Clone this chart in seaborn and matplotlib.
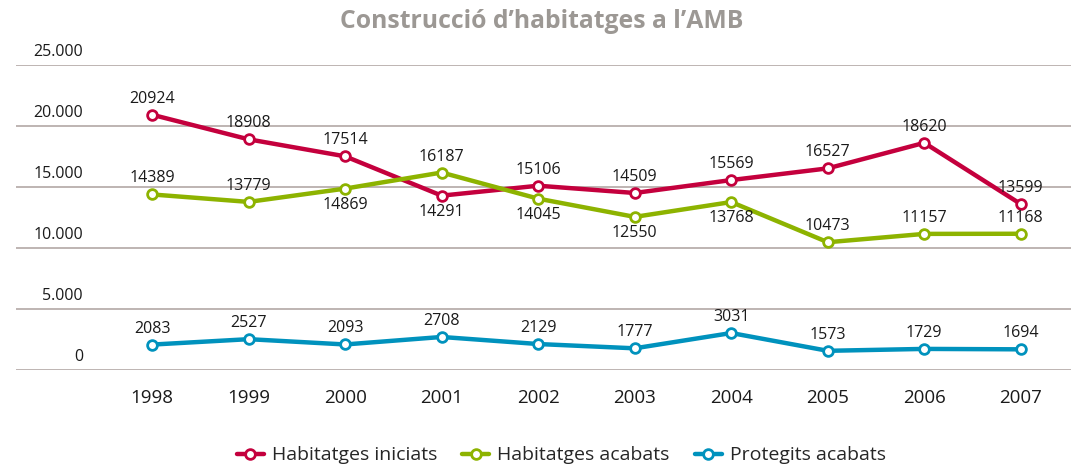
import matplotlib
matplotlib.use("Agg")
import matplotlib.pyplot as plt
import seaborn as sns
import pandas as pd
from matplotlib.lines import Line2D

years = [1998, 1999, 2000, 2001, 2002, 2003, 2004, 2005, 2006, 2007]
iniciats = [20924, 18908, 17514, 14291, 15106, 14509, 15569, 16527, 18620, 13599]
acabats = [14389, 13779, 14869, 16187, 14045, 12550, 13768, 10473, 11157, 11168]
protegits = [2083, 2527, 2093, 2708, 2129, 1777, 3031, 1573, 1729, 1694]
series_names = ["Habitatges iniciats", "Habitatges acabats", "Protegits acabats"]
# label position: 1 above, -1 below
pos_iniciats = [1, 1, 1, -1, 1, 1, 1, 1, 1, 1]
pos_acabats = [1, 1, -1, 1, -1, -1, -1, 1, 1, 1]
pos_protegits = [1] * 10
yticks = [0, 5000, 10000, 15000, 20000, 25000]
ytick_labels = ["0", "5.000", "10.000", "15.000", "20.000", "25.000"]
colors = ["#C4003D", "#8DB300", "#0092BD"]

sns.set_theme(style="white")
plt.rcParams["font.family"] = ["Open Sans", "DejaVu Sans"]

df = pd.DataFrame({
    "year": years * 3,
    "value": iniciats + acabats + protegits,
    "serie": [series_names[0]] * 10 + [series_names[1]] * 10 + [series_names[2]] * 10,
})

fig = plt.figure(figsize=(10.71, 4.67), dpi=100)
ax = fig.add_axes([16 / 1071, 97 / 467, 1055 / 1071, 305 / 467])

sns.lineplot(data=df, x="year", y="value", hue="serie", palette=colors,
             linewidth=3.2, marker="o", markersize=7, markerfacecolor="white",
             markeredgewidth=2, legend=False, ax=ax, zorder=3)
for line, c in zip(ax.get_lines(), colors):
    line.set_markeredgecolor(c)

ax.set_xlim(1996.59, 2007.52)
ax.set_ylim(0, 25000)
ax.set_yticks(yticks)
ax.yaxis.grid(True, color="#B3A8A5", linewidth=1.2)
ax.set_yticklabels([])
ax.tick_params(axis="y", length=0)
ax.set_xticks(years)
ax.set_xticklabels([str(y) for y in years], fontsize=13.5, color="#1a1a1a")
ax.tick_params(axis="x", length=0, pad=14)
for s in ax.spines.values():
    s.set_visible(False)
ax.set_xlabel("")
ax.set_ylabel("")

for v, lab in zip(yticks, ytick_labels):
    ax.annotate(lab, xy=(67 / 1055, v), xycoords=("axes fraction", "data"),
                xytext=(0, 3.5), textcoords="offset points",
                ha="right", va="bottom", fontsize=11.5, color="#1a1a1a")

for vals, poss in [(iniciats, pos_iniciats), (acabats, pos_acabats), (protegits, pos_protegits)]:
    for x, v, p in zip(years, vals, poss):
        ax.annotate(str(v), xy=(x, v), xytext=(0, 11.5 * p), textcoords="offset points",
                    ha="center", va="center", fontsize=11.5, color="#1a1a1a", zorder=5)

fig.text(0.506, 0.955, "Construcció d\u2019habitatges a l\u2019AMB", ha="center", va="center",
         fontsize=17.8, fontweight="bold", color="#9C9894")

handles = [Line2D([0], [0], color=c, linewidth=3.2, marker="o", markersize=7,
                  markerfacecolor="white", markeredgecolor=c, markeredgewidth=2)
           for c in colors]
fig.legend(handles, series_names, loc="center", bbox_to_anchor=(0.524, 0.025),
           ncol=3, frameon=False, fontsize=14, handlelength=1.4, handletextpad=0.4,
           columnspacing=1.3)

fig.savefig("out.png", dpi=100)
